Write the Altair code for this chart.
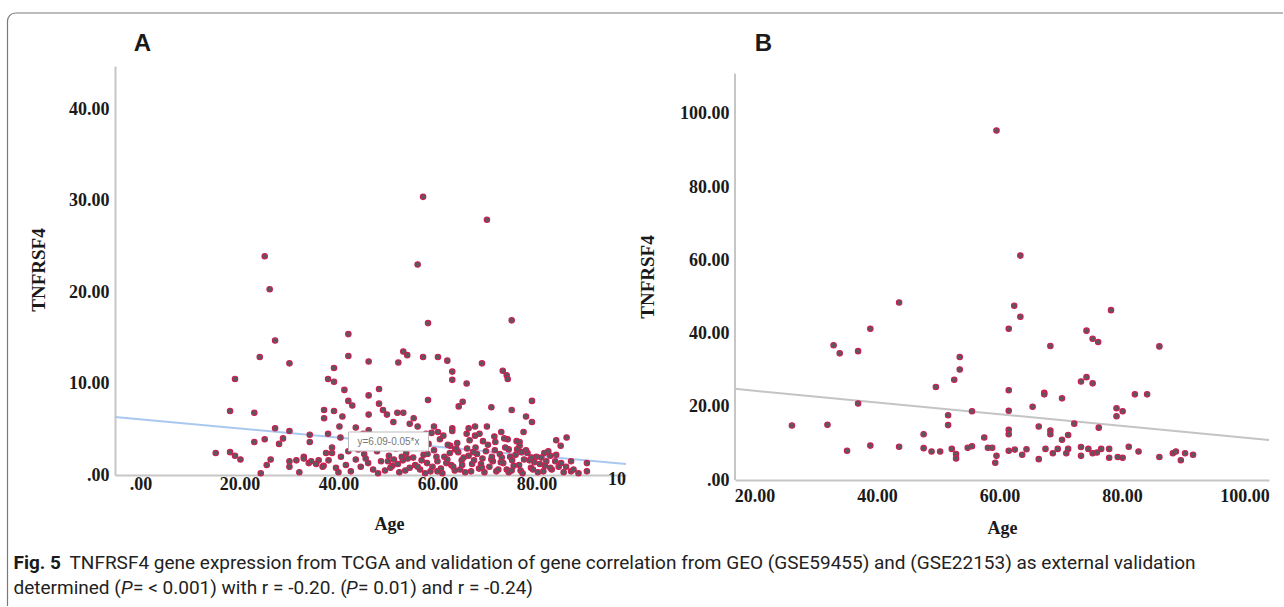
import altair as alt
import pandas as pd

# ---------------- data: panel A (TCGA) ----------------
a_upper = [
    (57.1, 30.4), (70.0, 27.9), (25.1, 23.9), (56.0, 23.0), (26.1, 20.3), (58.1, 16.6), (75.0, 16.9),
    (27.2, 14.7), (42.0, 15.4), (24.1, 12.9), (42.0, 13.0), (30.1, 12.2), (46.1, 12.4), (52.1, 12.3),
    (53.1, 13.5), (53.9, 13.1), (57.1, 12.9), (60.1, 12.9), (62.0, 12.5), (69.0, 12.2), (73.2, 11.4),
    (74.0, 10.9), (74.2, 10.5), (19.1, 10.5), (39.1, 11.7), (37.9, 10.5), (39.1, 10.2), (63.0, 11.3),
    (63.0, 10.4), (65.9, 10.0), (41.2, 9.3), (48.2, 9.4), (46.1, 8.7), (58.1, 8.2), (79.1, 8.1),
    (42.0, 8.1), (42.8, 7.6), (48.2, 7.8), (65.1, 8.0), (64.3, 7.5), (70.9, 7.4), (18.1, 7.0),
    (23.0, 6.8), (37.1, 7.1), (39.1, 7.0), (75.0, 7.1), (49.0, 7.1), (49.8, 6.6), (51.9, 6.8),
    (53.1, 6.8), (55.2, 6.2), (40.8, 6.4), (37.1, 6.2), (46.1, 6.6), (77.9, 6.4), (79.1, 5.8),
]
a_middle = [
    (51.1, 5.8), (54.4, 5.6), (56.0, 5.3), (59.3, 5.3), (63.0, 5.1), (66.3, 5.1), (67.6, 5.3),
    (70.0, 5.3), (27.2, 5.1), (30.1, 4.8), (40.2, 5.3), (43.5, 5.2), (46.1, 4.9), (72.9, 4.7),
    (77.4, 4.7), (37.9, 4.5), (57.7, 4.5), (60.1, 4.7), (65.9, 4.5), (67.6, 4.3), (34.2, 4.4),
    (86.1, 4.1), (23.0, 3.6), (25.1, 3.9), (28.8, 4.0), (28.0, 3.4), (34.2, 3.6), (40.4, 4.1),
    (69.2, 3.7), (71.7, 3.6), (74.2, 3.9), (76.6, 3.6), (84.0, 3.8), (84.9, 3.2), (15.2, 2.4),
    (18.1, 2.5), (19.1, 2.1), (20.2, 1.7), (38.7, 3.0), (38.7, 2.4), (62.6, 3.2), (63.6, 2.8),
    (74.4, 2.8), (76.6, 3.2), (81.6, 2.4), (82.8, 2.1), (26.3, 1.7), (25.5, 1.1), (24.3, 0.2),
    (30.1, 1.5), (30.1, 0.9), (32.1, 0.3), (87.0, 1.5), (90.2, 1.3), (90.2, 0.4), (87.0, 0.4),
    (31.5, 1.6), (33.0, 2.0), (34.0, 1.3), (36.0, 1.6), (37.0, 1.0),
]
a_band1 = [
    (33.0, 1.8), (34.5, 1.5), (35.5, 1.2), (36.8, 0.9), (38.0, 1.6), (39.5, 0.8), (40.5, 2.0),
    (41.5, 1.1), (42.5, 0.4), (43.5, 1.7), (44.5, 0.9), (45.2, 2.3), (46.0, 1.3), (47.0, 0.6),
    (47.8, 2.6), (48.6, 1.5), (49.4, 0.5), (50.2, 2.1), (50.9, 1.0), (51.6, 2.9), (52.3, 0.3),
    (53.0, 1.6), (53.7, 2.4), (54.4, 0.8), (55.1, 1.9), (55.8, 3.1), (56.5, 0.6), (57.2, 2.2),
    (57.9, 1.3), (58.6, 0.4), (59.3, 2.7), (60.0, 1.5), (60.7, 0.7), (61.4, 2.0), (62.1, 3.3),
    (62.8, 1.1), (63.5, 0.5), (64.2, 2.5), (64.9, 1.6), (65.6, 0.3), (66.3, 2.1), (67.0, 1.2),
    (67.7, 3.0), (68.4, 0.7), (69.1, 1.8), (69.8, 2.6), (70.5, 0.9), (71.2, 1.5), (71.9, 0.4),
    (72.6, 2.3), (73.3, 1.3), (74.0, 0.6), (74.7, 2.0), (75.4, 1.0), (76.1, 2.8), (76.8, 0.5),
    (77.5, 1.7), (78.2, 2.4), (78.9, 0.8), (79.6, 1.4), (80.3, 0.3), (81.0, 1.9), (81.7, 1.0),
    (82.4, 2.6), (83.1, 0.6), (83.8, 1.5), (84.5, 0.9), (85.5, 0.3),
]
a_band2 = [
    (44.0, 2.8), (46.5, 3.4), (48.0, 0.2), (49.0, 3.1), (50.5, 0.8), (51.2, 1.7), (52.8, 2.0),
    (53.5, 0.5), (54.8, 3.6), (55.5, 1.1), (56.8, 1.6), (57.5, 0.2), (58.2, 3.4), (59.0, 0.9),
    (59.8, 2.0), (60.5, 3.9), (61.0, 0.2), (61.8, 1.3), (62.5, 2.4), (63.2, 0.9), (64.0, 3.5),
    (64.6, 0.6), (65.3, 1.9), (66.0, 2.9), (66.8, 0.4), (67.4, 1.6), (68.0, 2.3), (68.8, 1.2),
    (69.5, 0.3), (70.2, 3.3), (70.9, 1.7), (71.6, 2.7), (72.3, 0.6), (73.0, 1.9), (73.7, 3.0),
    (74.4, 0.3), (75.1, 1.6), (75.8, 2.2), (76.5, 1.1), (77.2, 0.2), (77.9, 2.7), (78.6, 1.6),
    (79.3, 0.6), (80.0, 2.0), (80.7, 1.2), (81.4, 0.4), (82.0, 1.5), (82.8, 0.8), (84.0, 2.2),
    (85.0, 1.3), (86.0, 0.9), (87.5, 0.6), (88.5, 0.2),
]
a_band3 = [
    (50.0, 1.5), (52.0, 1.2), (54.0, 1.8), (56.0, 0.9), (58.0, 2.3), (60.0, 0.4), (62.0, 1.7),
    (63.8, 2.9), (65.0, 1.1), (67.2, 2.5), (69.0, 0.8), (71.0, 2.0), (72.8, 1.4), (75.0, 0.5),
    (77.0, 2.5), (79.0, 1.9), (45.5, 1.8), (42.0, 2.6), (40.0, 0.3), (37.5, 2.4), (56.3, 4.0),
    (61.2, 4.3), (66.5, 3.8), (71.5, 4.2), (76.0, 3.7), (53.2, 3.9), (58.8, 4.6), (68.5, 4.5),
    (73.5, 4.0), (63.0, 4.8), (48.5, 4.2), (45.0, 4.5),
]
a_fit_age = [-5.15, 98.1]
a_fit_val = [6.35, 1.19]
a_equation = "y=6.09-0.05*x"

# ---------------- data: panel B (GEO) ----------------
b_age = [59.5, 63.4, 43.6, 62.4, 63.4, 78.2, 38.9, 61.5, 74.2, 75.2, 76.1, 32.9, 33.9, 36.9, 68.3,
         86.1, 53.5, 53.5, 52.6, 73.3, 74.2, 75.2, 49.6, 61.5, 67.3, 67.3, 70.2, 82.1, 84.1, 36.9,
         65.4, 55.5, 61.5, 79.1, 80.1, 79.1, 51.6, 51.6, 26.1, 31.9, 72.2, 76.2, 66.4, 61.5, 61.5,
         68.3, 68.3, 47.6, 71.2, 70.2, 57.5, 35.1, 38.9, 43.6, 47.6, 48.9, 50.3, 52.2, 52.9, 52.9,
         54.8, 55.5, 58.1, 58.8, 59.5, 59.3, 61.5, 62.5, 63.7, 64.4, 66.4, 67.5, 68.7, 69.5, 71.2,
         70.9, 73.3, 73.3, 74.5, 75.2, 76.6, 75.9, 77.9, 77.9, 79.3, 80.1, 81.1, 82.7, 86.1, 88.3,
         88.8, 89.6, 90.3, 91.6]
b_val = [95.5, 61.3, 48.5, 47.6, 44.6, 46.4, 41.3, 41.3, 40.8, 38.6, 37.7, 36.8, 34.6, 35.2, 36.6,
         36.5, 33.6, 30.2, 27.4, 26.9, 28.1, 26.4, 25.4, 24.5, 23.8, 23.4, 22.3, 23.4, 23.4, 20.9,
         20.0, 18.8, 18.9, 19.6, 18.8, 17.4, 17.7, 15.0, 14.9, 15.1, 15.4, 14.3, 14.6, 13.7, 12.5,
         13.5, 12.5, 12.5, 12.3, 11.0, 11.6, 8.0, 9.4, 9.1, 8.7, 7.8, 7.8, 8.5, 7.1, 5.9,
         8.8, 9.2, 8.8, 8.8, 6.6, 4.7, 8.0, 8.3, 6.9, 8.4, 5.7, 8.5, 7.3, 8.5, 8.5,
         7.3, 9.0, 6.6, 8.5, 7.3, 8.5, 7.5, 8.5, 6.1, 6.3, 6.1, 9.1, 7.8, 6.3, 7.3,
         7.8, 5.4, 7.3, 6.9]
b_fit_age = [16.8, 104.0]
b_fit_val = [24.9, 10.9]

a_x_ticks = [0, 20, 40, 60, 80]
a_y_ticks = [0, 10, 20, 30, 40]
b_x_ticks = [20, 40, 60, 80, 100]
b_y_ticks = [0, 20, 40, 60, 80, 100]

caption_bold = "Fig. 5"
caption_line1 = ("TNFRSF4 gene expression from TCGA and validation of gene correlation from GEO "
                 "(GSE59455) and (GSE22153) as external validation")
caption_line2 = ["determined (", "P", "= < 0.001) with r = -0.20. (", "P", " = 0.01) and r = -0.24)"]

# ---------------- styling ----------------
POINT_FILL = "#5c5862"
POINT_STROKE = "#cc1f4f"
AXIS_GREY = "#c6c6c6"
SERIF = "Liberation Serif"
LABEL_EXPR = "datum.value == 0 ? '.00' : format(datum.value, '.2f')"

A_W, A_H = 511, 409
B_W, B_H = 534, 414
A_XD = [-5.15, 98.1]
A_YD = [0, 44.7]
B_XD = [16.8, 104.0]
B_YD = [0, 113.1]

one = pd.DataFrame({"d": [0]})


def text_layer(text, x, y, size, font, weight="normal", angle=0, align="center",
               baseline="middle", color="#1a1a1a", style="normal"):
    return alt.Chart(one).mark_text(
        text=text, fontSize=size, font=font, fontWeight=weight, angle=angle,
        align=align, baseline=baseline, color=color, fontStyle=style,
    ).encode(x=alt.value(x), y=alt.value(y))


# ---------------- panel A ----------------
dfA = pd.DataFrame(a_upper + a_middle + a_band1 + a_band2 + a_band3, columns=["age", "val"])
xA = alt.X("age:Q", title=None,
           scale=alt.Scale(domain=A_XD, nice=False, zero=False),
           axis=alt.Axis(values=a_x_ticks, labelExpr=LABEL_EXPR, labelPadding=0,
                         labelFlush=False, labelAlign="center"))
yA = alt.Y("val:Q", title=None,
           scale=alt.Scale(domain=A_YD, nice=False),
           axis=alt.Axis(values=a_y_ticks, labelExpr=LABEL_EXPR, labelPadding=6))

fitA = alt.Chart(pd.DataFrame({"age": a_fit_age, "val": a_fit_val})).mark_line(
    color="#a9c8ef", strokeWidth=2).encode(x=xA, y=yA)
ptsA = alt.Chart(dfA).mark_circle(size=30, fill=POINT_FILL, stroke=POINT_STROKE,
                                  strokeWidth=1.1, opacity=1).encode(x=xA, y=yA)
eq_box = alt.Chart(one).mark_rect(fill="white", stroke="#bdbdbd", strokeWidth=1).encode(
    x=alt.value(233.5), x2=alt.value(313.5), y=alt.value(366), y2=alt.value(385))
eq_txt = text_layer(a_equation, 273.5, 376, 10, "Liberation Sans", color="#777777")

# frame of the figure (top and left edges with rounded corner) + caption, placed relative to panel A
frame_top = alt.Chart(one).mark_rule(color="#7a7a7a", strokeWidth=1.2).encode(
    x=alt.value(-99.5), x2=alt.value(1168), y=alt.value(-53))
frame_left = alt.Chart(one).mark_rule(color="#7a7a7a", strokeWidth=1.2).encode(
    x=alt.value(-107.5), y=alt.value(-45), y2=alt.value(540))
frame_corner = alt.Chart(one).mark_arc(radius=8.6, radius2=7.4, theta=4.712389, theta2=6.283185,
                                       color="#7a7a7a").encode(x=alt.value(-99.5), y=alt.value(-45))

CAP_FONT = "Roboto"
CAP_SIZE = 19
CX0 = -101.5  # page x = 12
cap = [
    text_layer(caption_bold, CX0, 497, CAP_SIZE, CAP_FONT, weight="bold", align="left"),
    text_layer(caption_line1, -45.5, 497, CAP_SIZE, CAP_FONT, align="left", color="#222222"),
    text_layer(caption_line2[0], CX0, 522, CAP_SIZE, CAP_FONT, align="left", color="#222222"),
    text_layer(caption_line2[1], CX0 + 107.5, 522, CAP_SIZE, CAP_FONT, align="left", color="#222222",
               style="italic"),
    text_layer(caption_line2[2], CX0 + 119.5, 522, CAP_SIZE, CAP_FONT, align="left", color="#222222"),
    text_layer(caption_line2[3], CX0 + 332.5, 522, CAP_SIZE, CAP_FONT, align="left", color="#222222",
               style="italic"),
    text_layer(caption_line2[4], CX0 + 344.5, 522, CAP_SIZE, CAP_FONT, align="left", color="#222222"),
]

panelA = alt.layer(
    fitA, ptsA, eq_box, eq_txt,
    text_layer("A", 27.5, -22, 24, "Liberation Sans", weight="bold"),
    text_layer("TNFRSF4", -76, 204, 19, SERIF, weight="bold", angle=270),
    text_layer("Age", 274.5, 459, 18, SERIF, weight="bold"),
    text_layer("10", 511, 414, 18, SERIF, weight="bold", align="right"),
    frame_top, frame_left, frame_corner, *cap,
).properties(width=A_W, height=A_H)

# ---------------- panel B ----------------
dfB = pd.DataFrame({"age": b_age, "val": b_val})
xB = alt.X("age:Q", title=None,
           scale=alt.Scale(domain=B_XD, nice=False, zero=False),
           axis=alt.Axis(values=b_x_ticks, labelExpr=LABEL_EXPR, labelPadding=7,
                         labelFlush=False, labelAlign="center"))
yB = alt.Y("val:Q", title=None,
           scale=alt.Scale(domain=B_YD, nice=False),
           axis=alt.Axis(values=b_y_ticks, labelExpr=LABEL_EXPR, labelPadding=6, domain=False))

fitB = alt.Chart(pd.DataFrame({"age": b_fit_age, "val": b_fit_val})).mark_line(
    color="#c4c4c4", strokeWidth=2).encode(x=xB, y=yB)
ptsB = alt.Chart(dfB).mark_circle(size=30, fill=POINT_FILL, stroke=POINT_STROKE,
                                  strokeWidth=1.1, opacity=1).encode(x=xB, y=yB)
# visible y-axis line of panel B (runs from 0 up to 111, short of the plot top)
b_axis_line = alt.Chart(pd.DataFrame({"val": [0], "val2": [111]})).mark_rule(
    color=AXIS_GREY, strokeWidth=2).encode(x=alt.value(0), y=yB, y2="val2:Q")

panelB = alt.layer(
    b_axis_line, fitB, ptsB,
    text_layer("B", 28.4, -22, 24, "Liberation Sans", weight="bold"),
    text_layer("TNFRSF4", -87, 211, 19, SERIF, weight="bold", angle=270),
    text_layer("Age", 267.4, 463, 18, SERIF, weight="bold"),
).properties(width=B_W, height=B_H)

chart = alt.hconcat(panelA, panelB, spacing=109, bounds="flush").properties(
    padding={"left": 6, "top": 12, "right": 0, "bottom": 0}
).configure_view(stroke=None).configure_axis(
    domainColor=AXIS_GREY, domainWidth=2, ticks=False, tickSize=0, grid=False,
    labelFont=SERIF, labelFontWeight="bold", labelFontSize=18, labelColor="#1a1a1a",
)

chart.save("out.html", embed_options={"renderer": "svg", "actions": False})
